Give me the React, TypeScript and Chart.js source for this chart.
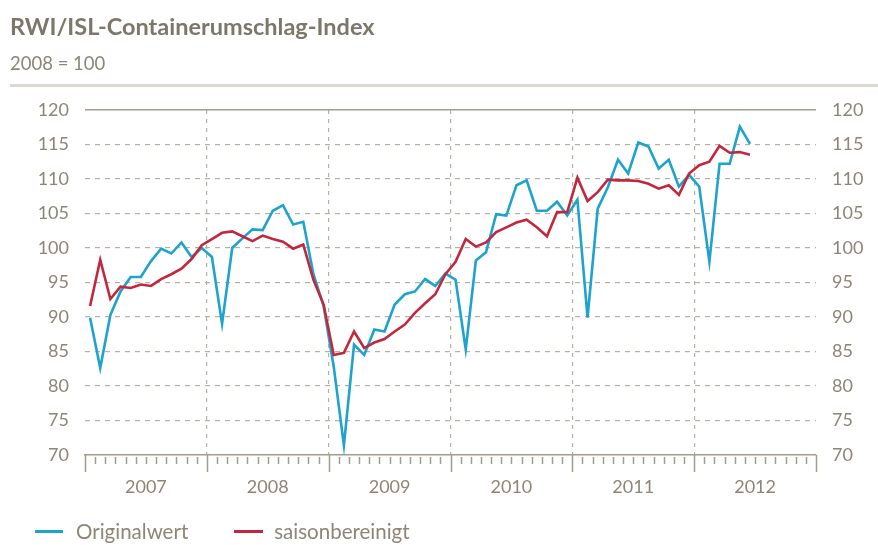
import React, { useEffect, useRef } from "react";
import { Chart, registerables } from "chart.js";

Chart.register(...registerables);

const years = ["2007", "2008", "2009", "2010", "2011", "2012"];
const yTicks = [70, 75, 80, 85, 90, 95, 100, 105, 110, 115, 120];

// Monthly values, Jan 2007 .. Jun 2012
const originalwert = [
  89.9, 82.6, 90.3, 93.7, 95.8, 95.8, 98.1, 99.9, 99.2, 100.8, 98.7, 100.0,
  98.7, 89.0, 100.0, 101.4, 102.7, 102.6, 105.4, 106.2, 103.4, 103.8, 96.2, 91.6,
  82.8, 71.4, 86.0, 84.5, 88.2, 87.9, 91.8, 93.3, 93.7, 95.5, 94.5, 96.3,
  95.4, 85.3, 98.2, 99.4, 104.9, 104.7, 109.1, 109.8, 105.4, 105.4, 106.7, 104.7,
  107.0, 89.9, 105.7, 108.8, 112.8, 110.8, 115.3, 114.7, 111.5, 112.8, 108.9, 110.6,
  108.9, 98.0, 112.2, 112.2, 117.6, 115.1,
];
const saisonbereinigt = [
  91.6, 98.3, 92.6, 94.4, 94.2, 94.7, 94.5, 95.5, 96.2, 97.0, 98.4, 100.4,
  101.3, 102.2, 102.4, 101.7, 101.0, 101.8, 101.3, 100.9, 99.9, 100.5, 95.4, 91.8,
  84.5, 84.8, 87.9, 85.5, 86.3, 86.8, 87.9, 88.9, 90.6, 92.0, 93.3, 96.2,
  98.0, 101.3, 100.2, 100.8, 102.3, 103.0, 103.7, 104.1, 103.0, 101.7, 105.2, 105.2,
  110.2, 106.8, 108.1, 109.9, 109.8, 109.8, 109.7, 109.3, 108.6, 109.1, 107.7, 110.8,
  112.0, 112.5, 114.8, 113.8, 113.9, 113.5,
];

const BLUE = "#1ea3cd";
const RED = "#c2283d";
const TEXT = "#8d8678";
const GRID = "#b8b0a3";
const AXIS = "#a39b8c";
const FONT = "Lato, 'Open Sans', sans-serif";

const monthsTotal = years.length * 12;

const tickPlugin = {
  id: "monthTicks",
  afterDraw(chart: any) {
    const xs = chart.scales.x;
    const ctx = chart.ctx;
    const y0 = chart.chartArea.bottom;
    ctx.save();
    ctx.strokeStyle = AXIS;
    ctx.lineWidth = 1.5;
    for (let i = 0; i <= monthsTotal; i++) {
      const x = Math.round(xs.getPixelForValue(i)) + 0.5;
      ctx.beginPath();
      if (i % 12 === 0) {
        ctx.moveTo(x, y0);
        ctx.lineTo(x, y0 + 17);
      } else {
        ctx.moveTo(x, y0 + 2);
        ctx.lineTo(x, y0 + 9);
      }
      ctx.stroke();
    }
    ctx.restore();
  },
};

export default function App() {
  const ref = useRef<HTMLCanvasElement>(null);

  useEffect(() => {
    if (!ref.current) return;
    const toPoints = (arr: number[]) => arr.map((v, i) => ({ x: i + 0.5, y: v }));
    const yCommon = {
      type: "linear" as const,
      min: yTicks[0],
      max: yTicks[yTicks.length - 1],
      afterBuildTicks: (s: any) => {
        s.ticks = yTicks.map((v) => ({ value: v }));
      },
    };
    const chart = new Chart(ref.current, {
      type: "line",
      data: {
        datasets: [
          {
            label: "Originalwert",
            data: toPoints(originalwert),
            borderColor: BLUE,
            borderWidth: 2.6,
            pointRadius: 0,
            tension: 0,
            order: 1,
          },
          {
            label: "saisonbereinigt",
            data: toPoints(saisonbereinigt),
            borderColor: RED,
            borderWidth: 2.6,
            pointRadius: 0,
            tension: 0,
            order: 0,
          },
        ],
      },
      options: {
        animation: false,
        responsive: false,
        layout: { padding: { top: 110, left: 0, right: 0, bottom: 0 } },
        plugins: { legend: { display: false }, tooltip: { enabled: false } },
        scales: {
          x: {
            type: "linear",
            min: 0,
            max: monthsTotal,
            afterBuildTicks: (s: any) => {
              const t = [];
              for (let i = 0; i <= monthsTotal; i++) t.push({ value: i });
              s.ticks = t;
            },
            afterFit: (s: any) => {
              s.height = 90;
            },
            ticks: {
              autoSkip: false,
              maxRotation: 0,
              padding: 21,
              color: TEXT,
              font: { family: FONT, size: 18 },
              callback: (v: any) => {
                const n = Number(v);
                return n % 12 === 6 ? years[(n - 6) / 12] : "";
              },
            },
            grid: {
              drawTicks: false,
              lineWidth: 1.2,
              color: (c: any) => {
                const v = c.tick ? c.tick.value : -1;
                return v % 12 === 0 && v > 0 && v < monthsTotal ? GRID : "rgba(0,0,0,0)";
              },
            },
            border: { display: true, color: AXIS, width: 1.5, dash: [4, 5] },
          },
          y: {
            ...yCommon,
            position: "left",
            afterFit: (s: any) => {
              s.width = 85;
            },
            ticks: {
              padding: 16,
              color: TEXT,
              font: { family: FONT, size: 18 },
            },
            grid: {
              drawTicks: false,
              color: (c: any) => {
                const v = c.tick ? c.tick.value : 0;
                if (v === 120) return AXIS;
                if (v === 70) return "rgba(0,0,0,0)";
                return GRID;
              },
              lineWidth: (c: any) => (c.tick && c.tick.value === 120 ? 1.6 : 1.2),
            },
            border: {
              display: false,
              dash: (c: any) => (c.tick && c.tick.value === 120 ? [] : [5, 5]),
            },
          },
          y2: {
            ...yCommon,
            position: "right",
            afterFit: (s: any) => {
              s.width = 62;
            },
            ticks: {
              padding: 16,
              color: TEXT,
              font: { family: FONT, size: 18 },
            },
            grid: { drawOnChartArea: false, drawTicks: false },
            border: { display: false },
          },
        },
      },
      plugins: [tickPlugin],
    } as any);
    return () => chart.destroy();
  }, []);

  return (
    <div
      style={{
        position: "absolute",
        left: 0,
        top: 0,
        width: 878,
        height: 545,
        background: "#fff",
        fontFamily: FONT,
        overflow: "hidden",
      }}
    >
      <canvas ref={ref} width={878} height={545} style={{ position: "absolute", left: 0, top: 0 }} />
      <div
        style={{
          position: "absolute",
          left: 10,
          top: 12,
          fontSize: 23.5,
          lineHeight: 1.2,
          fontWeight: 700,
          color: "#7c776b",
          whiteSpace: "nowrap",
        }}
      >
        RWI/ISL-Containerumschlag-Index
      </div>
      <div
        style={{
          position: "absolute",
          left: 10,
          top: 52,
          fontSize: 18.5,
          lineHeight: 1.2,
          color: TEXT,
          whiteSpace: "nowrap",
        }}
      >
        2008 = 100
      </div>
      <div
        style={{
          position: "absolute",
          left: 10,
          top: 84,
          width: 868,
          height: 3,
          background: "#dcd9d1",
        }}
      />
      <div
        style={{
          position: "absolute",
          left: 35,
          top: 519,
          display: "flex",
          alignItems: "center",
          fontSize: 20.5,
          lineHeight: 1.2,
          color: TEXT,
          whiteSpace: "nowrap",
        }}
      >
        <span style={{ display: "inline-block", width: 28, height: 3, background: BLUE, marginRight: 13 }} />
        <span style={{ marginRight: 46 }}>Originalwert</span>
        <span style={{ display: "inline-block", width: 29, height: 3, background: RED, marginRight: 11 }} />
        <span>saisonbereinigt</span>
      </div>
    </div>
  );
}
